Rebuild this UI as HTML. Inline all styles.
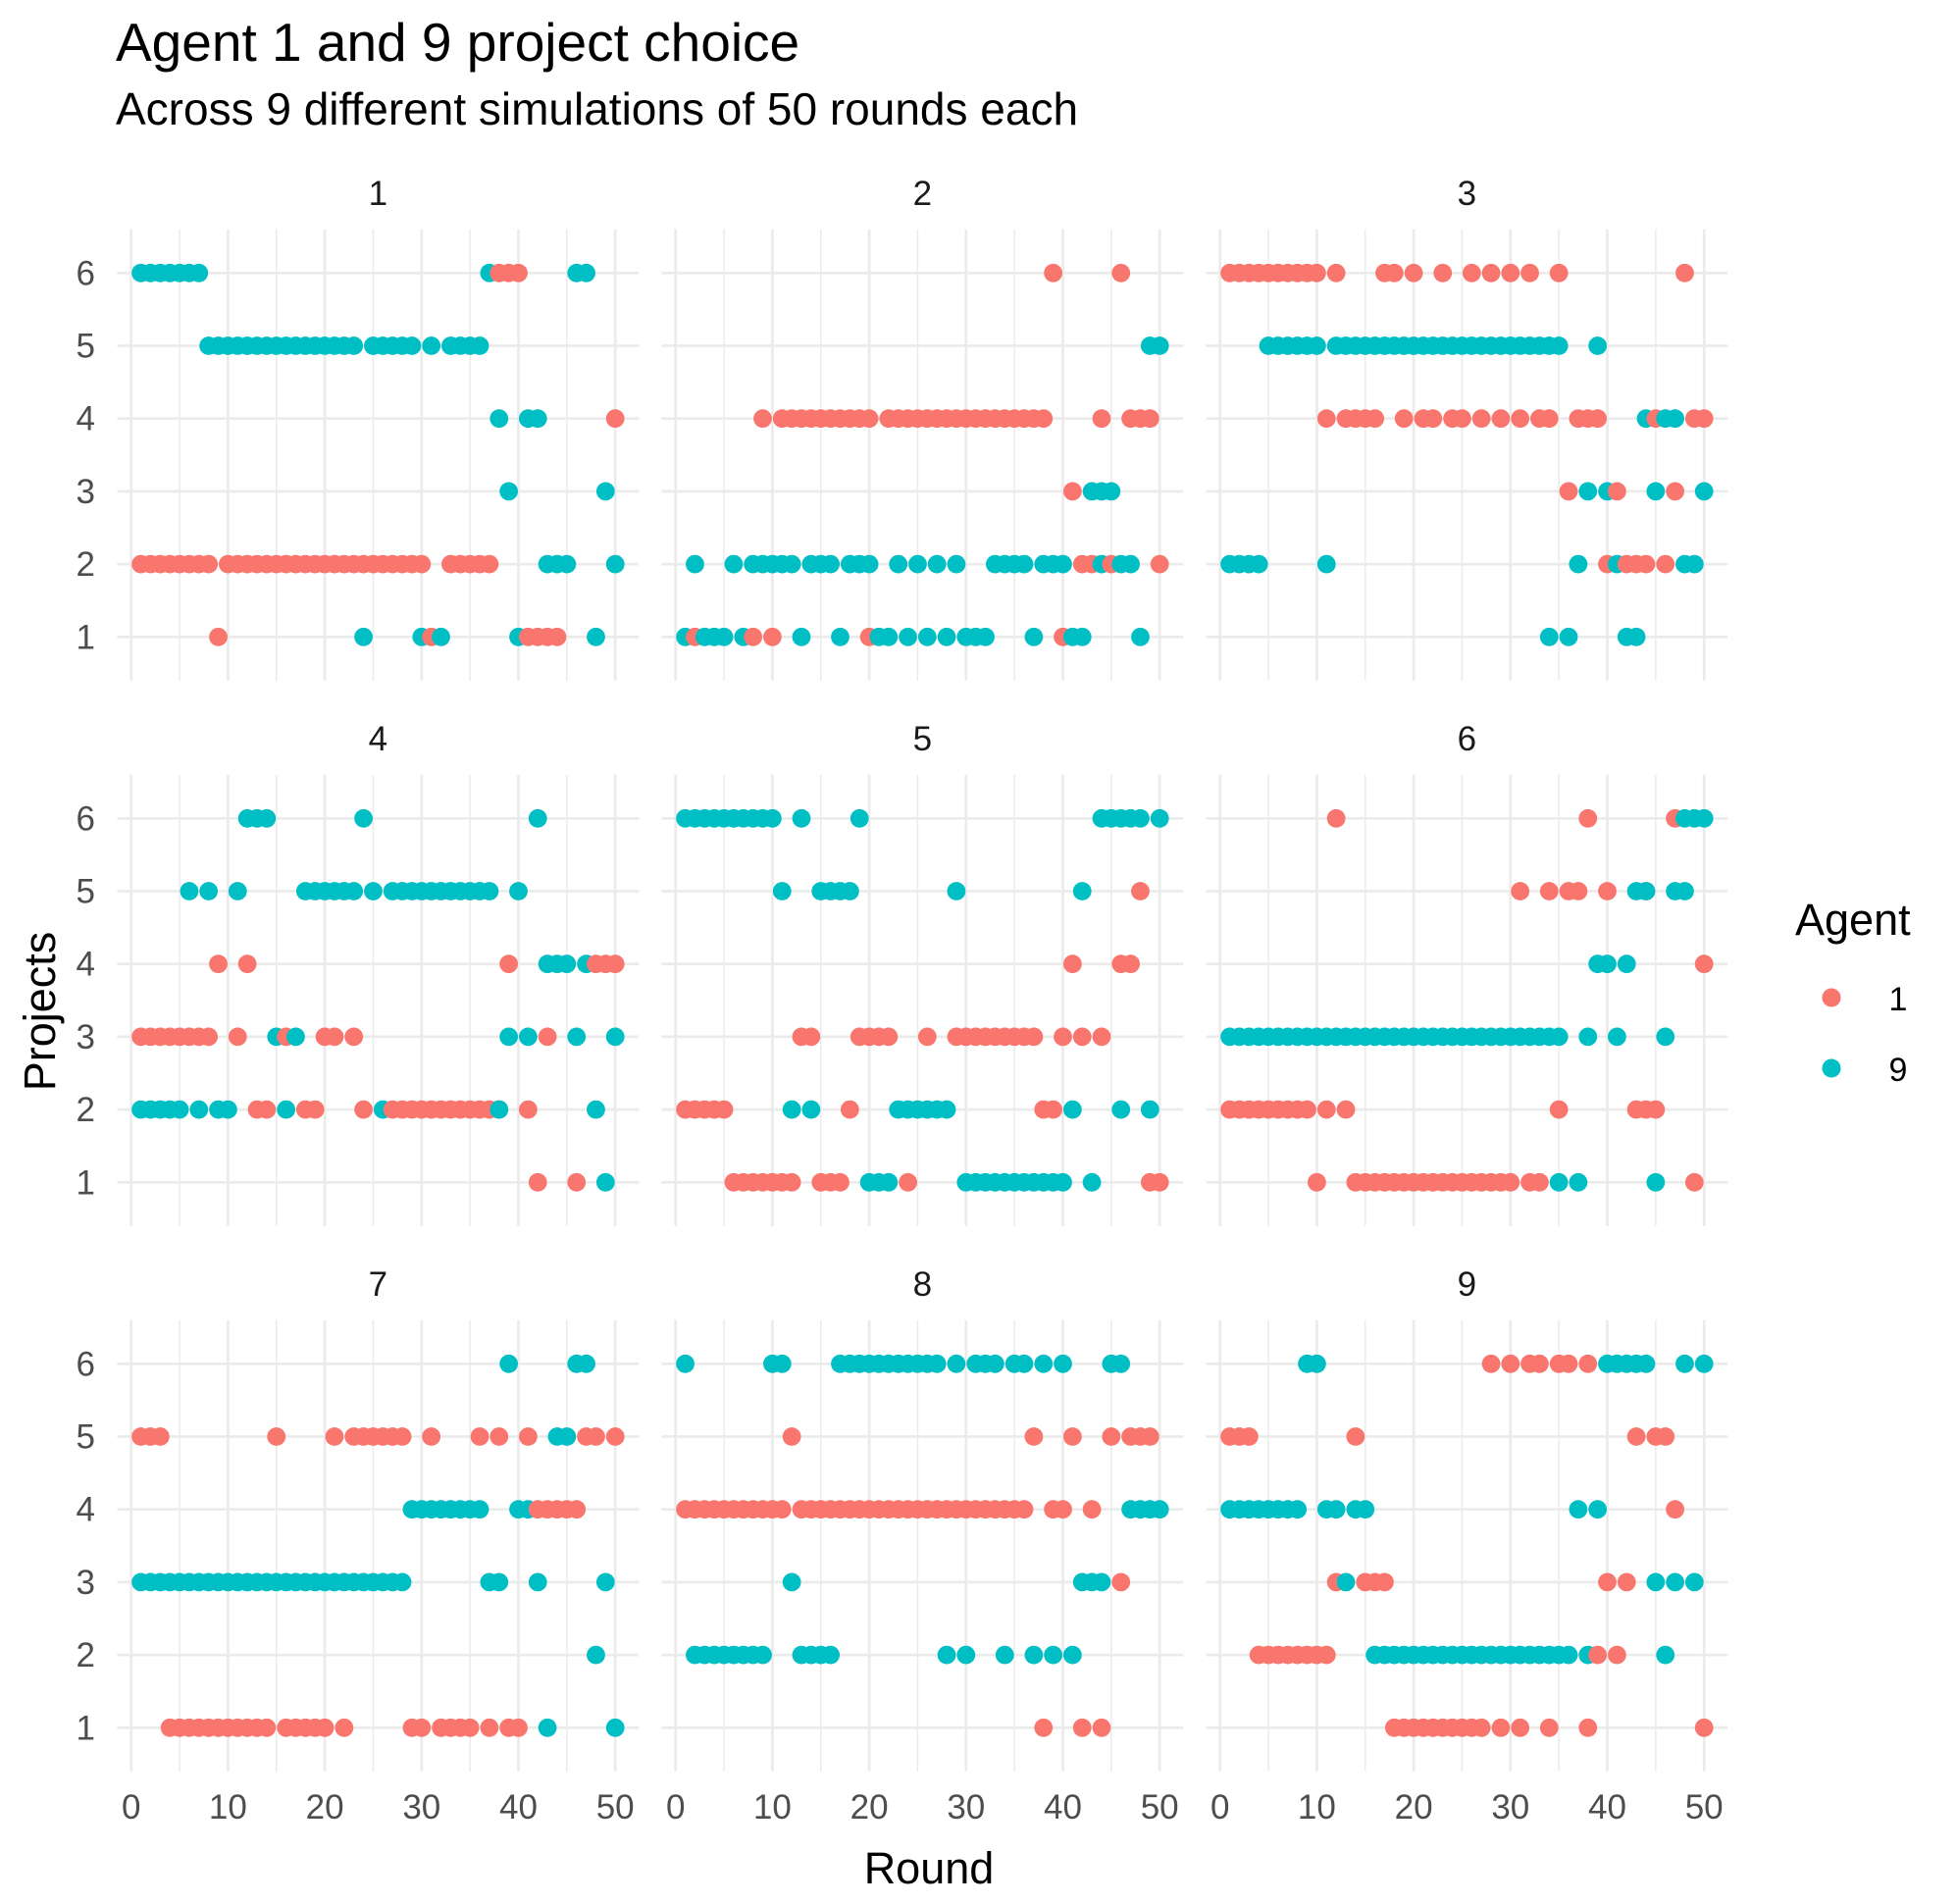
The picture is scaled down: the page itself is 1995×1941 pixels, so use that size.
<!DOCTYPE html>
<html><head><meta charset="utf-8"><style>
html,body{margin:0;padding:0;background:#fff;}
svg{display:block;font-family:"Liberation Sans",Arial,sans-serif;}
</style></head><body>
<svg id="chart" xmlns="http://www.w3.org/2000/svg" width="1995" height="1941" viewBox="0 0 1995 1941">
<text x="118" y="62" font-size="55" fill="#000">Agent 1 and 9 project choice</text>
<text x="118" y="127" font-size="46" fill="#000">Across 9 different simulations of 50 rounds each</text>
<text x="947" y="1920" font-size="45" text-anchor="middle" fill="#000">Round</text>
<text transform="translate(56,1031) rotate(-90)" font-size="45" text-anchor="middle" fill="#000">Projects</text>
<g>
<text x="1830" y="953" font-size="45" fill="#000">Agent</text>
<circle cx="1867" cy="1017" r="9.5" fill="#F8766D"/>
<text x="1935" y="1030" font-size="34" text-anchor="middle" fill="#000">1</text>
<circle cx="1867" cy="1089" r="9.5" fill="#00BFC4"/>
<text x="1935" y="1102" font-size="34" text-anchor="middle" fill="#000">9</text>
</g>
<g id="panels"></g>
</svg>
<script>
function R(a,b){var o=[];for(var i=a;i<=b;i++)o.push(i);return o;}
// Each array: rounds at which the agent chose project 1..6
const sim1_agent1=[[9,31,41,42,43,44],[...R(1,8),...R(10,30),33,34,35,36,37],[],[50],[],[38,39,40]];
const sim1_agent9=[[24,30,32,40,48],[43,44,45,50],[39,49],[38,41,42],[...R(8,23),25,26,27,28,29,31,33,34,35,36],[...R(1,7),37,46,47]];
const sim2_agent1=[[2,8,10,20,40],[42,43,45,50],[41],[9,...R(11,20),...R(22,38),44,47,48,49],[],[39,46]];
const sim2_agent9=[[1,3,4,5,7,13,17,21,22,24,26,28,30,31,32,37,41,42,48],[2,6,8,9,10,11,12,14,15,16,18,19,20,23,25,27,29,33,34,35,36,38,39,40,44,46,47],[43,44,45],[],[49,50],[]];
const sim3_agent1=[[],[40,42,43,44,46],[36,41,47],[11,13,14,15,16,19,21,22,24,25,27,29,31,33,34,37,38,39,45,49,50],[],[...R(1,10),12,17,18,20,23,26,28,30,32,35,48]];
const sim3_agent9=[[34,36,42,43],[1,2,3,4,11,37,41,48,49],[38,40,45,50],[44,46,47],[...R(5,10),...R(12,35),39],[]];
const sim4_agent1=[[42,46],[13,14,18,19,24,...R(27,38),41],[...R(1,8),11,16,20,21,23,43],[9,12,39,48,49,50],[],[]];
const sim4_agent9=[[49],[1,2,3,4,5,7,9,10,16,26,38,48],[15,17,39,41,46,50],[43,44,45,47],[6,8,11,...R(18,23),25,...R(27,37),40],[12,13,14,24,42]];
const sim5_agent1=[[...R(6,12),15,16,17,24,49,50],[1,2,3,4,5,18,38,39],[13,14,19,20,21,22,26,...R(29,37),40,42,44],[41,46,47],[48],[]];
const sim5_agent9=[[20,21,22,...R(30,40),43],[12,14,...R(23,28),41,46,49],[],[],[11,15,16,17,18,29,42],[...R(1,10),13,19,44,45,46,47,48,50]];
const sim6_agent1=[[10,...R(14,30),32,33,49],[...R(1,9),11,13,35,43,44,45],[],[50],[31,34,36,37,40,44],[12,38,47]];
const sim6_agent9=[[35,37,45],[],[...R(1,35),38,41,46],[39,40,42],[43,44,47,48],[48,49,50]];
const sim7_agent1=[[...R(4,14),...R(16,20),22,29,30,...R(32,35),37,39,40],[],[],[42,43,44,45,46],[1,2,3,15,21,...R(23,28),31,36,38,41,47,48,50],[]];
const sim7_agent9=[[43,50],[48],[...R(1,28),37,38,42,49],[...R(29,36),40,41],[44,45],[39,46,47]];
const sim8_agent1=[[38,42,44],[],[46],[...R(1,11),...R(13,36),39,40,43],[12,37,41,45,47,48,49],[]];
const sim8_agent9=[[],[...R(2,9),13,14,15,16,28,30,34,37,39,41],[12,42,43,44],[47,48,49,50],[],[1,10,11,...R(17,27),29,31,32,33,35,36,38,40,45,46]];
const sim9_agent1=[[...R(18,27),29,31,34,38,50],[...R(4,11),39,41],[12,15,16,17,40,42],[47],[1,2,3,14,43,45,46],[28,30,32,33,35,36,38]];
const sim9_agent9=[[],[...R(16,36),38,46],[13,45,47,49],[...R(1,8),11,12,14,15,37,39],[],[9,10,40,41,42,43,44,48,50]];
const agent1Data=[sim1_agent1,sim2_agent1,sim3_agent1,sim4_agent1,sim5_agent1,sim6_agent1,sim7_agent1,sim8_agent1,sim9_agent1];
const agent9Data=[sim1_agent9,sim2_agent9,sim3_agent9,sim4_agent9,sim5_agent9,sim6_agent9,sim7_agent9,sim8_agent9,sim9_agent9];
const simLabels=["1","2","3","4","5","6","7","8","9"];
const xTicks=[0,10,20,30,40,50];
const xMinorTicks=[5,15,25,35,45];
const yTicks=[1,2,3,4,5,6];

const NS="http://www.w3.org/2000/svg";
const root=document.getElementById('panels');
const X0=133.7, PX=9.87, COLW=555, Y1=649.3, PY=74.2, ROWH=556;
function xs(c,v){return X0+c*COLW+v*PX;}
function ys(r,v){return Y1+r*ROWH-(v-1)*PY;}
function mk(tag,attrs,parent){const e=document.createElementNS(NS,tag);for(const k in attrs)e.setAttribute(k,attrs[k]);parent.appendChild(e);return e;}

for(let i=0;i<9;i++){
  const c=i%3, r=Math.floor(i/3);
  const g=mk('g',{},root);
  
  
  const left=xs(c,-1.45), right=xs(c,52.45), top=ys(r,6.6), bot=ys(r,0.4);
  xMinorTicks.forEach(t=>{const l=mk('line',{x1:xs(c,t),x2:xs(c,t),y1:top,y2:bot,stroke:'#EBEBEB','stroke-width':1.5},g);
    
    });
  xTicks.forEach(t=>{const l=mk('line',{x1:xs(c,t),x2:xs(c,t),y1:top,y2:bot,stroke:'#EBEBEB','stroke-width':2.7},g);
    
    });
  yTicks.forEach(t=>{const l=mk('line',{x1:left,x2:right,y1:ys(r,t),y2:ys(r,t),stroke:'#EBEBEB','stroke-width':2.7},g);
    
    });
  const st=mk('text',{x:(left+right)/2,y:top-25,'font-size':35,'text-anchor':'middle',fill:'#1A1A1A'},g);
  st.textContent=simLabels[i];
  
  
  if(c===0){yTicks.forEach(t=>{const tx=mk('text',{x:97,y:ys(r,t)+12,'font-size':35,'text-anchor':'end',fill:'#4D4D4D'},g);
    tx.textContent=t;
    
    });}
  if(r===2){xTicks.forEach(t=>{const tx=mk('text',{x:xs(c,t),y:1854,'font-size':35,'text-anchor':'middle',fill:'#4D4D4D'},g);
    tx.textContent=t;
    
    });}
  const pts=[];
  agent1Data[i].forEach((rounds,p)=>rounds.forEach(rd=>pts.push({rd:rd,p:p+1,a:0})));
  agent9Data[i].forEach((rounds,p)=>rounds.forEach(rd=>pts.push({rd:rd,p:p+1,a:1})));
  pts.sort((u,v)=>u.rd-v.rd||u.a-v.a);
  pts.forEach(pt=>{const ci=mk('circle',{cx:xs(c,pt.rd),cy:ys(r,pt.p),r:9.4,fill:pt.a?'#00BFC4':'#F8766D'},g);
    
    });
}
</script>
</body></html>
